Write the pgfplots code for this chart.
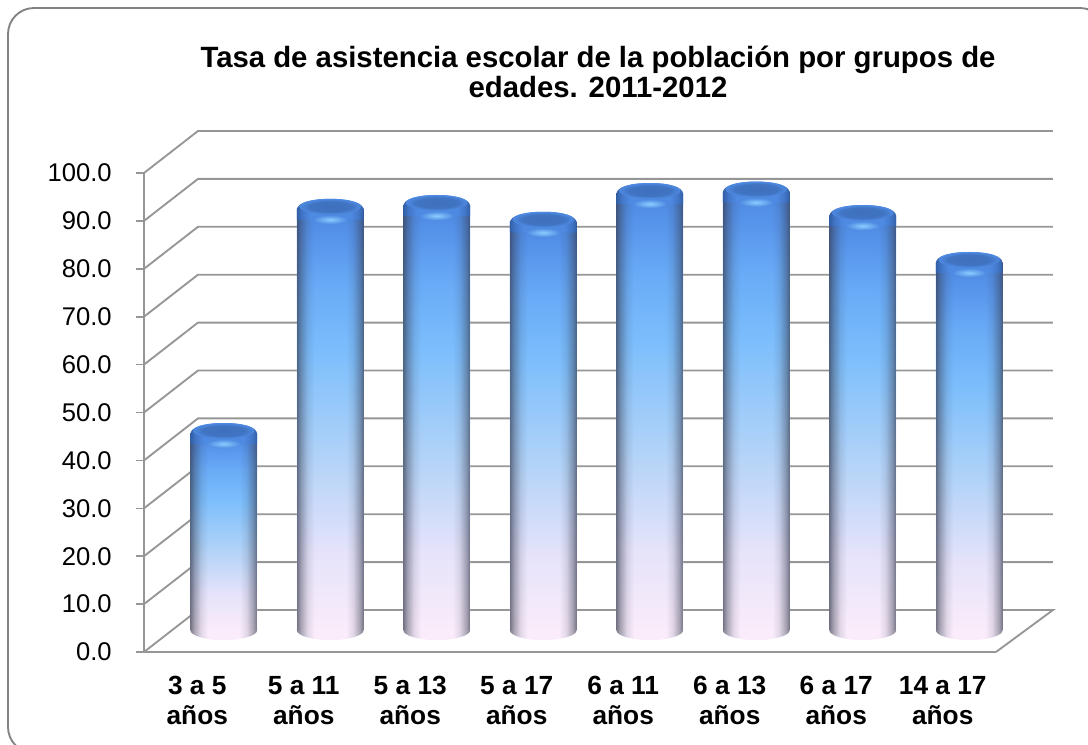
\documentclass[border=0pt]{standalone}
\usepackage{pgfplots}
\usepackage{pgfplotstable}
\pgfplotsset{compat=1.18}
\usepackage{fontspec}
\setmainfont{Liberation Sans}
\usetikzlibrary{fadings}
\definecolor{gridc}{RGB}{150,150,150}
\definecolor{framec}{RGB}{130,130,130}
\newcommand{\fl}{\rule{0pt}{15pt}}
% vertical colour ramp of a bar (25bp = foot, 75bp = top)
\pgfdeclareverticalshading{cylv}{100bp}{
 color(0bp)=(rgb,255:red,250;green,236;blue,250);
 color(25bp)=(rgb,255:red,250;green,236;blue,250);
 color(34bp)=(rgb,255:red,230;green,227;blue,250);
 color(46bp)=(rgb,255:red,175;green,210;blue,248);
 color(58bp)=(rgb,255:red,124;green,190;blue,252);
 color(66bp)=(rgb,255:red,104;green,170;blue,246);
 color(71bp)=(rgb,255:red,88;green,150;blue,236);
 color(75bp)=(rgb,255:red,76;green,135;blue,224);
 color(100bp)=(rgb,255:red,76;green,135;blue,224)}
\pgfdeclarehorizontalshading{edgeshade}{100bp}{
 color(0bp)=(pgftransparent!30);
 color(25bp)=(pgftransparent!30);
 color(28bp)=(pgftransparent!58);
 color(33bp)=(pgftransparent!88);
 color(38bp)=(pgftransparent!100);
 color(62bp)=(pgftransparent!100);
 color(67bp)=(pgftransparent!88);
 color(72bp)=(pgftransparent!58);
 color(75bp)=(pgftransparent!30);
 color(100bp)=(pgftransparent!30)}
\tikzfading[name=edges,shading=edgeshade]
\pgfdeclarehorizontalshading{footh}{100bp}{
 color(0bp)=(rgb,255:red,125;green,122;blue,135);
 color(25bp)=(rgb,255:red,125;green,122;blue,135);
 color(28bp)=(rgb,255:red,170;green,165;blue,180);
 color(33bp)=(rgb,255:red,225;green,215;blue,232);
 color(38bp)=(rgb,255:red,250;green,236;blue,250);
 color(62bp)=(rgb,255:red,250;green,236;blue,250);
 color(67bp)=(rgb,255:red,225;green,215;blue,232);
 color(72bp)=(rgb,255:red,170;green,165;blue,180);
 color(75bp)=(rgb,255:red,125;green,122;blue,135);
 color(100bp)=(rgb,255:red,125;green,122;blue,135)}
\pgfdeclarehorizontalshading{caph}{100bp}{
 color(0bp)=(rgb,255:red,50;green,95;blue,165);
 color(25bp)=(rgb,255:red,50;green,95;blue,165);
 color(29bp)=(rgb,255:red,66;green,118;blue,200);
 color(35bp)=(rgb,255:red,78;green,138;blue,226);
 color(65bp)=(rgb,255:red,78;green,138;blue,226);
 color(71bp)=(rgb,255:red,66;green,118;blue,200);
 color(75bp)=(rgb,255:red,50;green,95;blue,165);
 color(100bp)=(rgb,255:red,50;green,95;blue,165)}
\pgfdeclareradialshading{glow}{\pgfpointorigin}{
 color(0bp)=(rgb,255:red,140;green,205;blue,255);
 color(25bp)=(rgb,255:red,78;green,138;blue,226);
 color(50bp)=(rgb,255:red,78;green,138;blue,226)}
\pgfdeclareradialshading{capface}{\pgfpointorigin}{
 color(0bp)=(rgb,255:red,62;green,112;blue,188);
 color(17bp)=(rgb,255:red,64;green,116;blue,194);
 color(25bp)=(rgb,255:red,78;green,138;blue,226);
 color(50bp)=(rgb,255:red,78;green,138;blue,226)}
\pgfdeclareplotmark{cylfoot}{
 \path[draw=none,shading=footh] (-25.1pt,0pt) arc [start angle=180,end angle=360,x radius=25.1pt,y radius=7.6pt] -- cycle;}
\pgfdeclareplotmark{cyltop}{
 \path[draw=none,shading=caph] (-25.1pt,-8pt) -- (-25.1pt,-1pt)
   .. controls (-25.1pt,5pt) and (-14pt,7.6pt) .. (0pt,7.6pt)
   .. controls (14pt,7.6pt) and (25.1pt,5pt) .. (25.1pt,-1pt) -- (25.1pt,-8pt) -- cycle;
 \path[draw=none,shading=capface] (0pt,1.8pt) ellipse [x radius=23pt,y radius=5.8pt];
 \path[draw=none,shading=glow] (0pt,-8pt) ellipse [x radius=13pt,y radius=3.4pt];}
\pgfplotstableread{
x v b
0.5 41.1 0
1.5 87.9 0
2.5 88.7 0
3.5 85.2 0
4.5 91.2 0
5.5 91.5 0
6.5 86.6 0
7.5 76.8 0
}\bardata
\pgfplotsset{
 edgebar/.style={ybar,bar shift=0pt,bar width=50.2pt,draw=none,fill={rgb,255:red,55;green,60;blue,80},path fading=edges,fit fading=true},
 shadebar/.style={ybar,bar shift=0pt,bar width=50.2pt,draw=none,shading=cylv}}
\begin{document}
\begin{tikzpicture}[x=0.75pt,y=0.75pt]
\useasboundingbox (0,0) rectangle (1088,744);
\draw[framec,line width=1.4pt,rounded corners=19.5pt] (8,-9) rectangle (1106,736);
\node[font=\bfseries\fontsize{22}{22.5}\selectfont,align=center,anchor=center] at (598,672) {Tasa de asistencia escolar de la población por grupos de\\edades. 2011-2012};
% main axis: ticks, labels, walls
\begin{axis}[at={(108pt,69pt)},anchor=south west,scale only axis,width=639pt,height=359.25pt,
 xmin=0,xmax=8,ymin=0,ymax=100,clip=false,
 axis x line*=bottom,axis y line*=left,
 axis line style={gridc,line width=1.4pt,-},
 every tick/.style={gridc,line width=1.2pt},
 tick align=outside,major tick length=6pt,
 ytick={0,10,...,100},
 /pgf/number format/.cd,fixed,fixed zerofill,precision=1,assume math mode=true,/pgfplots/.cd,
 yticklabel style={font=\fontsize{19.2}{22}\selectfont,inner sep=0pt,xshift=-18pt},
 xtick={0.5,1.5,2.5,3.5,4.5,5.5,6.5,7.5},
 xticklabels={\fl 3 a 5\\años,\fl 5 a 11\\años,\fl 5 a 13\\años,\fl 5 a 17\\años,\fl 6 a 11\\años,\fl 6 a 13\\años,\fl 6 a 17\\años,\fl 14 a 17\\años},
 x tick style={draw=none},
 xticklabel style={font=\bfseries\fontsize{19.7}{22.5}\selectfont,align=center,yshift=-7.5pt},
 extra x ticks={0,1,2,3,4,5,6,7,8},
 extra x tick labels={},
 extra x tick style={tick style={gridc,line width=1.2pt},major tick length=6pt},
]
\addplot[gridc,line width=1.4pt,forget plot] coordinates {(0,0) (0.507,8.77) (8.535,8.77) (8,0)};
\addplot[gridc,line width=1.4pt,forget plot] coordinates {(0,10) (0.507,18.77) (8.535,18.77)};
\addplot[gridc,line width=1.4pt,forget plot] coordinates {(0,20) (0.507,28.77) (8.535,28.77)};
\addplot[gridc,line width=1.4pt,forget plot] coordinates {(0,30) (0.507,38.77) (8.535,38.77)};
\addplot[gridc,line width=1.4pt,forget plot] coordinates {(0,40) (0.507,48.77) (8.535,48.77)};
\addplot[gridc,line width=1.4pt,forget plot] coordinates {(0,50) (0.507,58.77) (8.535,58.77)};
\addplot[gridc,line width=1.4pt,forget plot] coordinates {(0,60) (0.507,68.77) (8.535,68.77)};
\addplot[gridc,line width=1.4pt,forget plot] coordinates {(0,70) (0.507,78.77) (8.535,78.77)};
\addplot[gridc,line width=1.4pt,forget plot] coordinates {(0,80) (0.507,88.77) (8.535,88.77)};
\addplot[gridc,line width=1.4pt,forget plot] coordinates {(0,90) (0.507,98.77) (8.535,98.77)};
\addplot[gridc,line width=1.4pt,forget plot] coordinates {(0,100) (0.507,108.77) (8.535,108.77)};
\end{axis}
% bars: same scale, moved half the depth into the chart
\begin{axis}[at={(127.875pt,85.5pt)},anchor=south west,scale only axis,width=639pt,height=359.25pt,
 xmin=0,xmax=8,ymin=0,ymax=100,clip=false,hide axis]
\addplot[only marks,mark=cylfoot] table[x=x,y=b] {\bardata};
\addplot[shadebar] coordinates {(0.5,41.1)};
\addplot[shadebar] coordinates {(1.5,87.9)};
\addplot[shadebar] coordinates {(2.5,88.7)};
\addplot[shadebar] coordinates {(3.5,85.2)};
\addplot[shadebar] coordinates {(4.5,91.2)};
\addplot[shadebar] coordinates {(5.5,91.5)};
\addplot[shadebar] coordinates {(6.5,86.6)};
\addplot[shadebar] coordinates {(7.5,76.8)};
\addplot[edgebar] coordinates {(0.5,41.1)};
\addplot[edgebar] coordinates {(1.5,87.9)};
\addplot[edgebar] coordinates {(2.5,88.7)};
\addplot[edgebar] coordinates {(3.5,85.2)};
\addplot[edgebar] coordinates {(4.5,91.2)};
\addplot[edgebar] coordinates {(5.5,91.5)};
\addplot[edgebar] coordinates {(6.5,86.6)};
\addplot[edgebar] coordinates {(7.5,76.8)};
\addplot[only marks,mark=cyltop] table[x=x,y=v] {\bardata};
\end{axis}
\end{tikzpicture}
\end{document}
